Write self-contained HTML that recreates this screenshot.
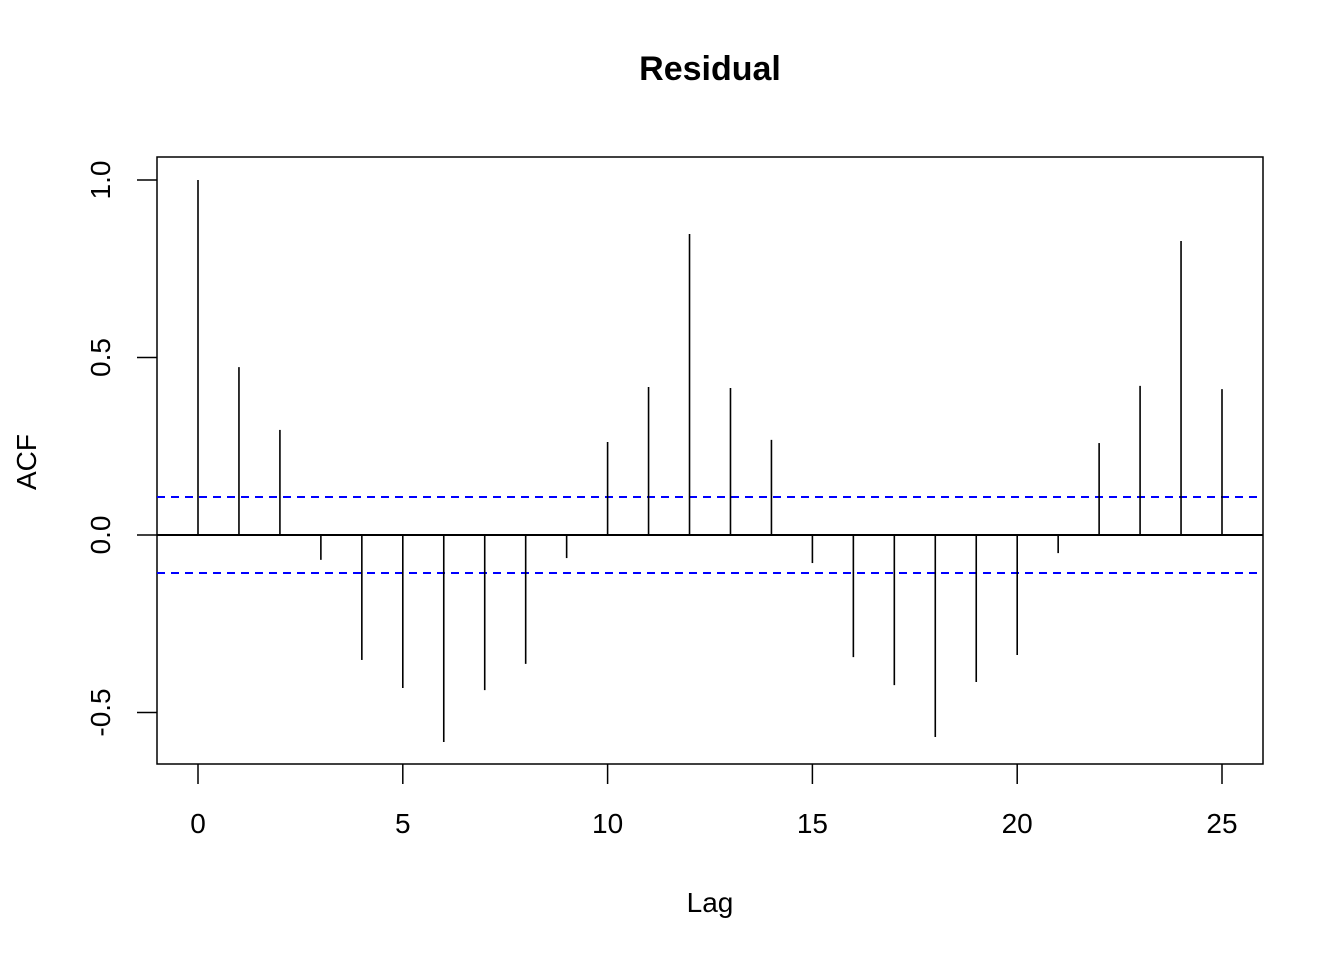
<!DOCTYPE html>
<html><head><meta charset="utf-8"><style>
body{margin:0;background:#fff;}
svg text{font-family:"Liberation Sans",Arial,sans-serif;}
</style></head><body>
<svg id="chart" width="1344" height="960" xmlns="http://www.w3.org/2000/svg">
<rect width="1344" height="960" fill="#fff"/>
<text x="710" y="80" text-anchor="middle" font-size="34" font-weight="bold">Residual</text>
<rect x="157" y="157" width="1106" height="607" fill="none" stroke="#000" stroke-width="1.5"/>
<text x="710" y="912" text-anchor="middle" font-size="28">Lag</text>
<text transform="translate(36,462) rotate(-90)" text-anchor="middle" font-size="28">ACF</text>
<g id="g"></g>
</svg>
<script>
const lags=[0,1,2,3,4,5,6,7,8,9,10,11,12,13,14,15,16,17,18,19,20,21,22,23,24,25];
const acf=[1.0,0.473,0.296,-0.070,-0.352,-0.431,-0.583,-0.437,-0.363,-0.065,0.262,0.417,0.848,0.414,0.268,-0.079,-0.344,-0.423,-0.569,-0.414,-0.338,-0.051,0.259,0.420,0.828,0.411];
const ci=0.107;
const xTicks=[0,5,10,15,20,25];
const yTicks=[-0.5,0.0,0.5,1.0];
const yTickLabels=["-0.5","0.0","0.5","1.0"];
const X=v=>198+v*40.96;
const Y=v=>535-v*355;
const g=document.getElementById('g');
const NS="http://www.w3.org/2000/svg";
function mk(t,a){const e=document.createElementNS(NS,t);for(const k in a)e.setAttribute(k,a[k]);g.appendChild(e);return e;}
let e;
e=mk('line',{x1:157,x2:1263,y1:Y(0),y2:Y(0),stroke:'#000','stroke-width':2});


[ci,-ci].forEach((c,i)=>{
 e=mk('line',{x1:157,x2:1263,y1:Y(c),y2:Y(c),stroke:'#0000ff','stroke-width':2,'stroke-dasharray':'8,6'});
 
 
});
lags.forEach((l,i)=>{
 e=mk('line',{x1:X(l),x2:X(l),y1:Y(0),y2:Y(acf[i]),stroke:'#000','stroke-width':1.6});
 
 
});
xTicks.forEach(t=>{
 e=mk('line',{x1:X(t),x2:X(t),y1:764,y2:784,stroke:'#000','stroke-width':1.5});
 
 
 e=mk('text',{x:X(t),y:833,'text-anchor':'middle','font-size':28});
 e.textContent=t;
 
 
});
yTicks.forEach((t,i)=>{
 e=mk('line',{x1:137,x2:157,y1:Y(t),y2:Y(t),stroke:'#000','stroke-width':1.5});
 
 
 e=mk('text',{transform:`translate(110,${Y(t)}) rotate(-90)`,'text-anchor':'middle','font-size':28});
 e.textContent=yTickLabels[i];
 
 
});
</script>
</body></html>
